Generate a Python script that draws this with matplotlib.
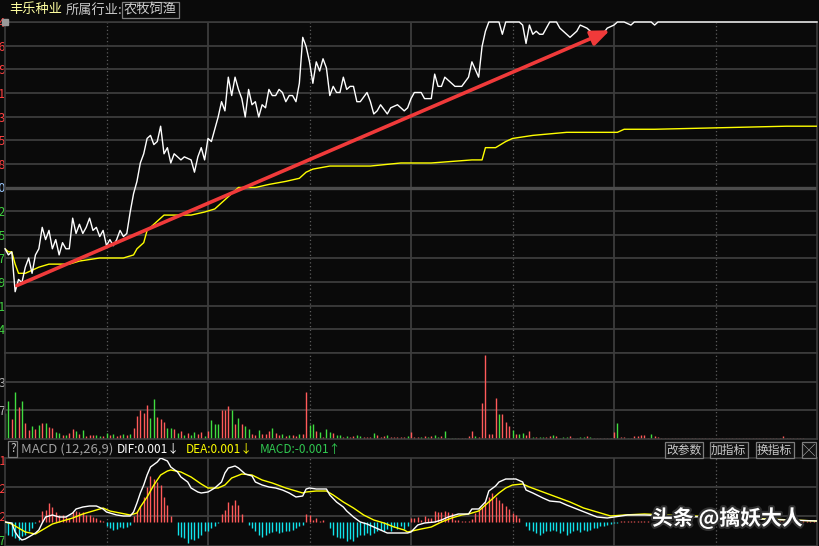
import matplotlib.pyplot as plt
from matplotlib import patheffects

plt.rcParams['font.family'] = ['Noto Sans CJK SC', 'DejaVu Sans']
plt.rcParams['axes.unicode_minus'] = False

W, H = 819, 546
BG = '#0a0a0a'
GRID = '#3c3c3c'
RED = '#ff5a5a'
GREEN = '#40dc40'
CYAN = '#10e4ec'

stock_name = '丰乐种业'
industry = '农牧饲渔'
prev_close = 5.40
limit_up = 5.94

# minute index (0 = 9:30, 120 = 11:30/13:00, 240 = 15:00), price
price_m = [0, 1, 2, 3, 4, 5, 6, 7, 8, 9, 10, 11, 12, 13, 14, 15, 16, 17, 18, 19,
           20, 21, 22, 23, 24, 25, 26, 27, 28, 29, 30, 31, 32, 33, 34, 35, 36, 37, 38, 39,
           40, 41, 42, 43, 44, 45, 46, 47, 48, 49, 50, 52, 53, 55, 56, 57, 58, 59, 60, 61,
           62, 63, 64, 65, 66, 67, 68, 69, 70, 71, 72, 73, 74, 75, 76, 77, 78, 79, 80, 81,
           82, 83, 84, 85, 86, 87, 88, 89, 90, 91, 92, 93, 94, 95, 96, 97, 98, 99, 100, 101,
           102, 103, 104, 105, 107, 108, 109, 110, 111, 113, 114, 116, 117, 118, 119, 120, 121, 123, 124, 126,
           127, 128, 129, 130, 132, 133, 135, 137, 138, 140, 141, 142, 143, 146, 147, 148, 152, 153, 154, 155,
           156, 157, 158, 159, 161, 163, 164, 167, 169, 170, 172, 173, 174, 176, 178, 180, 181, 183, 185, 186,
           191, 192, 193, 240]
price_v = [5.20, 5.18, 5.19, 5.06, 5.10, 5.09, 5.14, 5.17, 5.12, 5.18, 5.20, 5.27, 5.23, 5.26, 5.20, 5.23, 5.18, 5.22, 5.20, 5.20,
           5.30, 5.25, 5.28, 5.25, 5.27, 5.30, 5.26, 5.27, 5.24, 5.26, 5.21, 5.23, 5.21, 5.23, 5.26, 5.24, 5.25, 5.32, 5.38, 5.42,
           5.48, 5.51, 5.56, 5.57, 5.54, 5.55, 5.60, 5.51, 5.53, 5.48, 5.51, 5.49, 5.50, 5.49, 5.45, 5.50, 5.53, 5.49, 5.56, 5.55,
           5.59, 5.63, 5.68, 5.65, 5.76, 5.70, 5.76, 5.72, 5.69, 5.63, 5.72, 5.67, 5.68, 5.63, 5.67, 5.66, 5.72, 5.70, 5.70, 5.72,
           5.71, 5.68, 5.70, 5.70, 5.68, 5.74, 5.89, 5.86, 5.81, 5.74, 5.81, 5.78, 5.82, 5.79, 5.70, 5.73, 5.71, 5.71, 5.76, 5.72,
           5.73, 5.73, 5.68, 5.68, 5.71, 5.68, 5.64, 5.65, 5.67, 5.64, 5.66, 5.67, 5.66, 5.65, 5.66, 5.69, 5.71, 5.71, 5.69, 5.69,
           5.77, 5.73, 5.73, 5.76, 5.74, 5.73, 5.73, 5.76, 5.81, 5.76, 5.86, 5.91, 5.94, 5.94, 5.90, 5.94, 5.94, 5.93, 5.87, 5.93,
           5.90, 5.91, 5.90, 5.90, 5.94, 5.94, 5.92, 5.89, 5.91, 5.93, 5.92, 5.91, 5.88, 5.89, 5.92, 5.93, 5.94, 5.94, 5.93, 5.94,
           5.94, 5.93, 5.94, 5.94]

# average price line (yellow)
avg_m = [0, 1, 2, 3, 4, 6, 8, 10, 13, 16, 19, 22, 28, 33, 35, 38, 39, 41, 42, 44,
         46, 47, 50, 55, 59, 62, 65, 67, 69, 74, 78, 83, 87, 89, 91, 96, 108, 117, 126, 138,
         141, 142, 145, 148, 150, 156, 166, 181, 183, 192, 231, 240]
avg_v = [5.20, 5.19, 5.19, 5.15, 5.12, 5.12, 5.13, 5.14, 5.15, 5.15, 5.15, 5.16, 5.17, 5.17, 5.17, 5.18, 5.20, 5.22, 5.26, 5.28,
         5.30, 5.31, 5.31, 5.31, 5.32, 5.33, 5.36, 5.38, 5.40, 5.40, 5.41, 5.42, 5.43, 5.45, 5.46, 5.47, 5.47, 5.48, 5.48, 5.49,
         5.49, 5.53, 5.53, 5.55, 5.56, 5.57, 5.58, 5.58, 5.59, 5.59, 5.60, 5.60]

# hand-drawn trend arrow (minute, price)
arrow_start = (3.5, 5.08)
arrow_end = (178.8, 5.913)

# volume per minute (x100 lots), r = up minute, g = down minute
vol = [26, 38, 20, 47, 32, 38, 16, 9, 13, 10,
       14, 16, 16, 12, 11, 7, 6, 4, 4, 6,
       10, 8, 5, 9, 3, 4, 4, 4, 3, 3,
       6, 4, 5, 3, 4, 5, 4, 5, 11, 23,
       29, 26, 34, 21, 40, 22, 20, 17, 11, 11,
       10, 6, 8, 4, 6, 4, 7, 5, 7, 3,
       8, 19, 15, 15, 29, 29, 33, 29, 15, 21,
       15, 13, 10, 5, 4, 9, 5, 5, 8, 11,
       6, 4, 5, 3, 4, 4, 3, 5, 5, 47,
       14, 15, 8, 7, 2, 10, 7, 6, 4, 4,
       2, 3, 2, 3, 4, 3, 2, 2, 2, 6,
       4, 2, 3, 4, 2, 2, 2, 2, 2, 3,
       7, 2, 2, 2, 3, 2, 3, 4, 2, 3,
       8, 1, 1, 1, 1, 1, 1, 3, 8, 3,
       2, 36, 84, 5, 5, 41, 25, 25, 17, 13,
       9, 5, 5, 6, 4, 8, 2, 2, 2, 2,
       2, 3, 4, 3, 1, 2, 2, 3, 1, 1,
       2, 2, 3, 2, 1, 1, 1, 1, 1, 1,
       7, 16, 2, 2, 1, 1, 3, 3, 4, 4,
       1, 5, 3, 2, 1, 1, 1, 1, 1, 1,
       1, 1, 1, 1, 1, 1, 1, 1, 1, 1,
       1, 1, 1, 1, 1, 1, 1, 1, 1, 1,
       1, 1, 1, 1, 1, 1, 1, 1, 1, 1,
       3, 1, 1, 1, 1, 1, 1, 0, 0, 0,
       0]
vol_dir = ('ggrgrgrrgr' 'grgrrggrgr' 'rgrgrrrggr' 'grgrrgrgrr' 'rrrggrrrgg'
           'rgrgrggrrg' 'rgggrrrgrg' 'rggrrgrrrg' 'rrgrgrrgrr' 'ggrgrggrgg'
           'rgrrggrrrg' 'rrrgrrrrrg' 'rrrgrgrggr' 'ggggrrrrrg' 'rrrrrrgrrr'
           'grggrrgrgg' 'rrgrgggrrg' 'ggrgrrrrrg' 'rgrrgrrrrr' 'rgrrrrrrrr'
           'rrrrrrrrrr' 'rrrrrrrrrr' 'rrrrrrrrrr' 'rrrrrrrrrr' 'r')

# MACD (values x0.001)
dif_m = [0, 2, 3, 4, 5, 6, 8, 9, 10, 11, 12, 14, 16, 18, 20, 21, 23, 25, 27, 29,
         30, 32, 33, 35, 37, 38, 39, 40, 41, 42, 43, 45, 46, 48, 49, 51, 52, 54, 55, 57,
         58, 60, 62, 64, 65, 66, 68, 69, 71, 73, 74, 76, 78, 80, 82, 84, 86, 88, 89, 90,
         92, 95, 96, 98, 100, 101, 103, 105, 107, 109, 111, 113, 119, 120, 122, 124, 127, 129, 131, 134,
         137, 138, 140, 142, 143, 145, 146, 148, 151, 153, 154, 156, 159, 161, 164, 166, 169, 172, 175, 178,
         180, 184, 189, 240]
dif_v = [0, -1, -10, -15, -18, -17, -13, -11, -8, -1, 5, 7, 5, 5, 9, 13, 15, 16, 16, 13,
         10, 8, 7, 6, 6, 10, 19, 29, 37, 47, 55, 60, 64, 61, 55, 50, 45, 40, 34, 30,
         29, 30, 34, 40, 49, 54, 56, 54, 48, 46, 40, 37, 35, 34, 32, 29, 25, 26, 33, 34,
         33, 33, 27, 20, 15, 11, 5, 0, -2, -5, -8, -11, -11, -10, -3, -1, 0, 2, 5, 8,
         8, 13, 13, 20, 31, 36, 40, 43, 43, 40, 32, 29, 24, 21, 20, 17, 13, 9, 5, 4,
         5, 7, 7, 1]
dea_m = [0, 2, 4, 6, 9, 10, 12, 14, 16, 18, 20, 23, 26, 29, 31, 34, 37, 39, 40, 42,
         44, 46, 48, 49, 52, 55, 58, 60, 63, 65, 67, 70, 73, 76, 79, 83, 86, 88, 89, 92,
         95, 97, 100, 103, 106, 109, 112, 115, 118, 119, 123, 126, 129, 132, 135, 137, 140, 143, 146, 148,
         150, 153, 155, 159, 163, 167, 171, 175, 179, 183, 189, 218, 240]
dea_v = [0, -2, -6, -10, -12, -10, -6, -2, 0, 2, 4, 8, 11, 14, 11, 9, 7, 9, 15, 25,
         37, 47, 51, 52, 50, 45, 38, 34, 34, 37, 44, 48, 47, 42, 39, 34, 31, 29, 30, 31,
         31, 27, 20, 14, 7, 2, -1, -5, -8, -10, -7, -5, 0, 4, 7, 8, 11, 20, 29, 34,
         37, 38, 35, 30, 25, 20, 14, 10, 6, 7, 8, 4, 1]
macd_hist = [-11, -13, -14, -16, -18, -14, -13, -9, -6, -1,
             2, 11, 12, 19, 15, 10, 7, 7, 5, 4,
             10, 11, 10, 10, 7, 7, 5, 4, 2, 1,
             -4, -6, -8, -7, -5, -6, -5, -3, 6, 11,
             16, 25, 35, 46, 43, 40, 37, 25, 17, 6,
             0, -13, -15, -16, -21, -17, -18, -16, -13, -9,
             -9, -6, -4, -1, 8, 12, 20, 17, 22, 17,
             8, 0, -3, -6, -9, -13, -15, -13, -11, -10,
             -9, -11, -10, -9, -9, -8, -6, -4, -3, 8,
             7, 2, 4, 1, 2, 0, -6, -13, -15, -16,
             -16, -19, -17, -19, -15, -13, -13, -11, -13, -11,
             -9, -8, -9, -7, -9, -5, -7, -4, -7, -4,
             4, 4, 5, 2, 6, 4, 4, 11, 10, 10,
             11, 10, 9, 2, 2, 1, 1, 1, 3, 9,
             12, 15, 20, 25, 29, 25, 22, 19, 16, 13,
             9, 7, 4, 0, -4, -8, -9, -11, -13, -11,
             -9, -9, -8, -9, -11, -9, -13, -11, -9, -8,
             -10, -8, -9, -8, -6, -6, -4, -4, -3, -2,
             -1, -1, 1, 1, 1, 1, 1, 1, 1, 1,
             1, 0, 0, 0, 0, 0, 0, 0, 0, 0,
             0, 0, 0, 0, 0, 0, 0, 0, 0, 0,
             0, 0, 0, 0, 0, 0, 0, 0, 0, 0,
             0, 0, 0, 0, 0, 0, 1, 1, 1, 1,
             1, 1, 1, 1, 1, 1, 1, 1, 1, 1,
             1]
macd_labels = ['0.061', '0.042', '0.022', '-0.017']


fig = plt.figure(figsize=(W / 100, H / 100), dpi=100, facecolor=BG)


def add_panel(top, bottom):
    ax = fig.add_axes([5 / W, 1 - bottom / H, 812 / W, (bottom - top) / H])
    ax.set_facecolor(BG)
    ax.set_xlim(0, 240)
    ax.set_xticks([])
    for s in ax.spines.values():
        s.set_color(GRID)
        s.set_linewidth(1.2)
    for m in (30, 90, 150, 210):
        ax.axvline(m, color='#5c5c5c', lw=0.9, ls=(0, (1, 2)), zorder=0)
    for m in (60, 120, 180):
        ax.axvline(m, color=GRID, lw=1.3, zorder=0)
    ax.tick_params(axis='y', length=0, pad=-1, labelsize=9)
    return ax


def ftext(x, y, s, **kw):
    return fig.text(x / W, 1 - y / H, s, va='center', **kw)


# price panel
ax_p = add_panel(22, 353)
step = (limit_up - prev_close) / 7
levels = [prev_close + k * step for k in range(-7, 8)]
ax_p.set_ylim(levels[0], levels[-1])
for k, lv in zip(range(-7, 8), levels):
    if k == 0:
        ax_p.axhline(lv, color='#4c4c4c', lw=2.4, zorder=0)
    else:
        ax_p.axhline(lv, color=GRID, lw=1.3, zorder=0)
ax_p.set_yticks(levels[1:])
ax_p.set_yticklabels([f'{v:.2f}' for v in levels[1:]])
for lab, k in zip(ax_p.get_yticklabels(), range(-6, 8)):
    lab.set_color('#ff4040' if k > 0 else ('#9cc8ff' if k == 0 else '#40d040'))

ax_p.plot(avg_m, avg_v, color='#ffff00', lw=1.0, zorder=3)
ax_p.plot(price_m, price_v, color='white', lw=1.0, zorder=4, clip_on=False)
ax_p.annotate('', xy=arrow_end, xytext=arrow_start,
              arrowprops=dict(arrowstyle='-|>,head_length=1.1,head_width=0.45',
                              color='#f03a3a', lw=2.6, shrinkA=0, shrinkB=0,
                              mutation_scale=10), zorder=6)
ax_p.plot([0], [limit_up], marker='s', ms=4, color='#9a9a9a', clip_on=False, zorder=7)

# volume panel
ax_v = add_panel(353, 439)
ax_v.set_ylim(0, 86)
for lv in (86 / 3, 2 * 86 / 3):
    ax_v.axhline(lv, color=GRID, lw=1.3, zorder=0)
ax_v.vlines(range(len(vol)), 0, vol, colors=[RED if c == 'r' else GREEN for c in vol_dir], lw=1.0)
ax_v.set_yticks([86 / 3, 2 * 86 / 3])
ax_v.set_yticklabels(['2867', '5733'])
for lab in ax_v.get_yticklabels():
    lab.set_color('#b0b0b0')

# MACD panel
ax_m = add_panel(458, 546)
ax_m.set_ylim(-24, 64)
for lv in (35, 6):
    ax_m.axhline(lv, color=GRID, lw=1.3, zorder=0)
ax_m.vlines(range(len(macd_hist)), 0, macd_hist,
            colors=[RED if v > 0 else CYAN for v in macd_hist], lw=1.0)
ax_m.plot(dea_m, dea_v, color='#ffff00', lw=1.0, zorder=3)
ax_m.plot(dif_m, dif_v, color='white', lw=1.0, zorder=4)
ax_m.set_yticks([62, 34, 6, -18])
ax_m.set_yticklabels(macd_labels)
for lab, c in zip(ax_m.get_yticklabels(), ['#ff4040', '#ff4040', '#ff4040', '#40d040']):
    lab.set_color(c)

# top header
ftext(9, 10, stock_name, color='#ffffa0', fontsize=9.5)
ftext(66, 10, '所属行业:', color='#c8c8c8', fontsize=9.5)
ftext(124, 10, industry, color='#d0d0d0', fontsize=9.5,
      bbox=dict(boxstyle='square,pad=0.12', fc=BG, ec='#7c7c7c', lw=0.9))

# MACD header
ftext(10, 449, '?', color='#c8c8c8', fontsize=8.5,
      bbox=dict(boxstyle='square,pad=0.15', fc=BG, ec='#7c7c7c', lw=0.9))
ftext(21, 449, 'MACD (12,26,9)', color='#a0a0a0', fontsize=9.5)
ftext(117, 449, 'DIF:0.001↓', color='white', fontsize=8.5)
ftext(186, 449, 'DEA:0.001↓', color='#ffff00', fontsize=8.5)
ftext(260, 449, 'MACD:-0.001↑', color='#30c850', fontsize=8.5)
for x0, s in zip((666, 711, 757), ('改参数', '加指标', '换指标')):
    ftext(x0, 450, s, color='#c8c8c8', fontsize=8.5,
          bbox=dict(boxstyle='square,pad=0.12', fc='#121212', ec='#7c7c7c', lw=0.9))
ftext(803, 450, '╳', color='#c8c8c8', fontsize=8.5,
      bbox=dict(boxstyle='square,pad=0.12', fc='#121212', ec='#7c7c7c', lw=0.9))

# watermark
wm = ftext(652, 518, '头条 @擒妖大人', color='white', fontsize=15, fontweight='bold')
wm.set_path_effects([patheffects.withStroke(linewidth=3, foreground='#303030')])

fig.savefig('out.png', dpi=100, facecolor=BG)
